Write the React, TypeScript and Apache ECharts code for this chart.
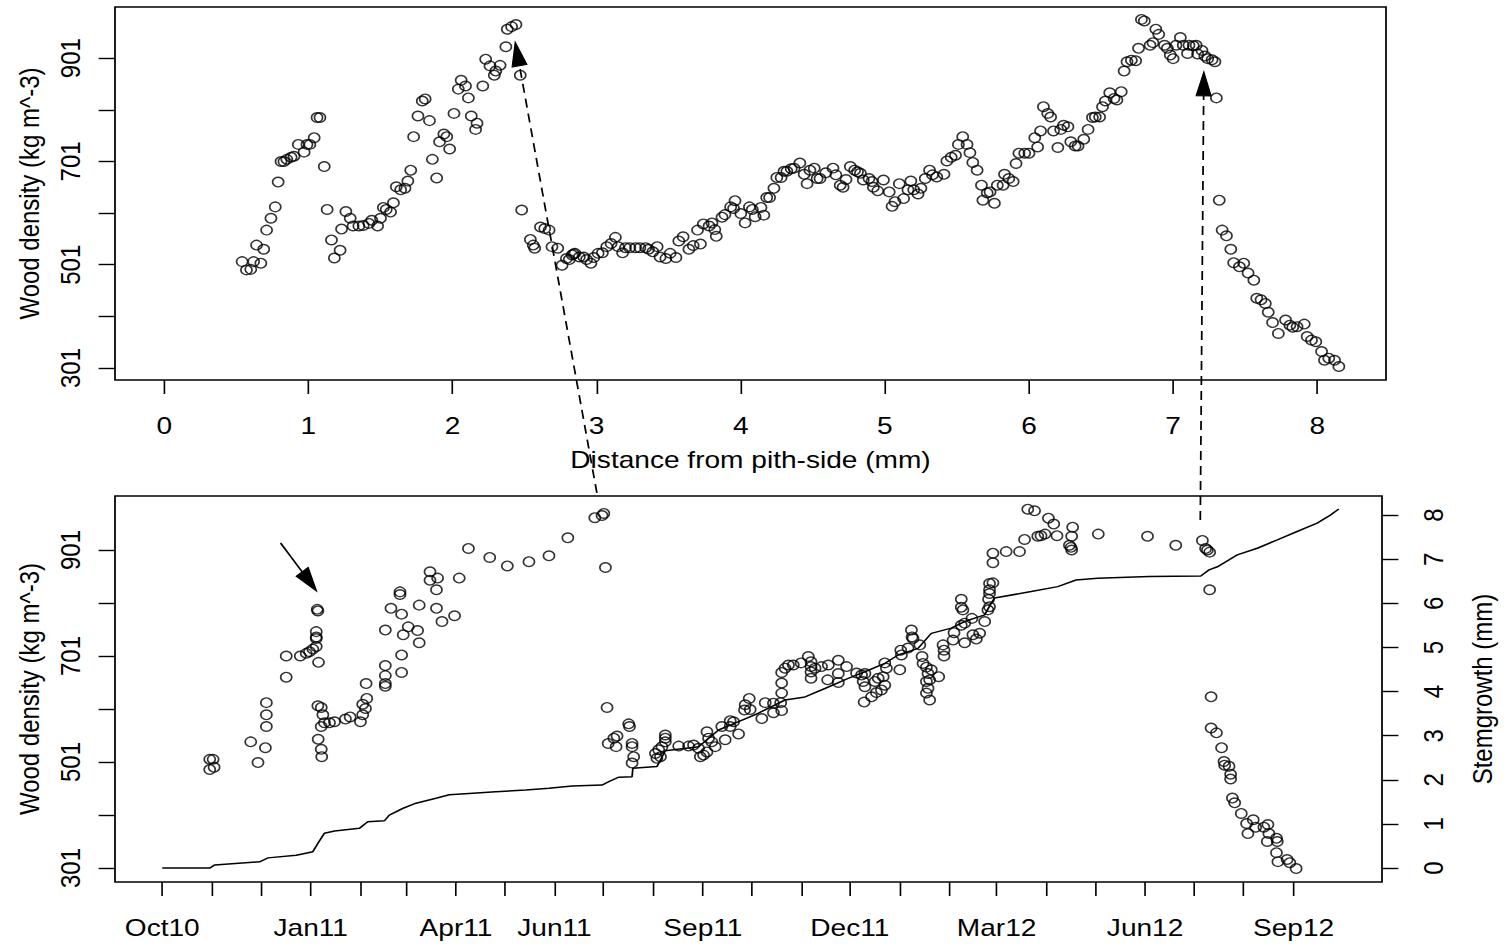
import React, { useEffect, useRef } from "react";
import * as echarts from "echarts";

// ---------- data ----------
// Top panel: wood density against distance from the pith-side (mm)
const TOP_DISTANCE_MM = [
  0.54, 0.57, 0.6, 0.62, 0.67, 0.64, 0.69, 0.71, 0.74, 0.77, 0.79, 0.81, 0.83, 0.85, 0.88, 0.9, 0.93, 0.97, 0.99, 1.01,
  1.04, 1.06, 1.08, 1.11, 1.13, 1.16, 1.18, 1.22, 1.26, 1.29, 1.23, 1.31, 1.35, 1.38, 1.42, 1.44, 1.48, 1.5, 1.52, 1.54,
  1.57, 1.59, 1.61, 1.64, 1.67, 1.69, 1.71, 1.73, 1.76, 1.79, 1.81, 1.84, 1.86, 1.89, 1.91, 1.94, 1.96, 1.98, 2.01, 2.04,
  2.06, 2.09, 2.11, 2.13, 2.17, 2.16, 2.21, 2.23, 2.26, 2.29, 2.3, 2.33, 2.37, 2.38, 2.41, 2.44, 2.47, 2.48, 2.54, 2.56,
  2.57, 2.61, 2.64, 2.67, 2.69, 2.73, 2.76, 2.79, 2.83, 2.85, 2.81, 2.84, 2.88, 2.91, 2.93, 2.96, 2.98, 3.01, 3.04, 3.07,
  3.1, 3.13, 3.15, 3.18, 3.2, 3.23, 3.27, 3.3, 3.34, 3.36, 3.39, 3.42, 3.44, 3.48, 3.51, 3.55, 3.57, 3.6, 3.64, 3.67,
  3.7, 3.72, 3.74, 3.78, 3.8, 3.83, 3.82, 3.87, 3.89, 3.93, 3.96, 3.95, 4.0, 4.03, 4.06, 4.08, 4.1, 4.14, 4.16, 4.18,
  4.2, 4.23, 4.25, 4.28, 4.3, 4.32, 4.35, 4.37, 4.41, 4.44, 4.46, 4.48, 4.51, 4.53, 4.55, 4.59, 4.64, 4.66, 4.69, 4.71,
  4.73, 4.76, 4.79, 4.81, 4.83, 4.85, 4.89, 4.91, 4.92, 4.95, 4.99, 5.03, 5.05, 5.07, 5.1, 5.13, 5.16, 5.18, 5.2, 5.23,
  5.25, 5.28, 5.31, 5.33, 5.36, 5.41, 5.43, 5.46, 5.49, 5.51, 5.54, 5.57, 5.59, 5.61, 5.64, 5.67, 5.68, 5.71, 5.73, 5.76,
  5.78, 5.82, 5.83, 5.86, 5.89, 5.91, 5.93, 5.97, 6.0, 6.04, 6.06, 6.08, 6.1, 6.13, 6.15, 6.17, 6.2, 6.22, 6.24, 6.27,
  6.29, 6.32, 6.34, 6.38, 6.41, 6.44, 6.46, 6.49, 6.51, 6.53, 6.56, 6.59, 6.61, 6.64, 6.66, 6.68, 6.71, 6.74, 6.76, 6.78,
  6.8, 6.84, 6.86, 6.88, 6.9, 6.94, 6.96, 6.98, 7.0, 7.02, 7.05, 7.07, 7.1, 7.11, 7.14, 7.16, 7.17, 7.2, 7.22, 7.24,
  7.27, 7.29, 7.3, 7.32, 7.34, 7.37, 7.4, 7.42, 7.46, 7.49, 7.52, 7.56, 7.58, 7.61, 7.64, 7.66, 7.69, 7.73, 7.78, 7.81,
  7.83, 7.86, 7.91, 7.93, 7.96, 7.99, 8.03, 8.05, 8.08, 8.12, 8.15,
];
const TOP_DENSITY = [
  507, 491, 492, 507, 504, 539, 531, 568, 591, 613, 661, 701, 701, 705, 709, 711, 734, 719, 734, 734,
  747, 786, 786, 691, 608, 549, 514, 529, 604, 591, 570, 576, 576, 577, 581, 587, 576, 591, 612, 608,
  603, 621, 652, 646, 649, 663, 684, 749, 789, 818, 822, 780, 705, 669, 739, 754, 749, 725, 794, 841,
  858, 847, 824, 789, 775, 763, 847, 899, 886, 868, 876, 887, 923, 957, 962, 966, 868, 607, 550, 539,
  533, 574, 571, 568, 536, 533, 500, 513, 520, 523, 511, 522, 516, 516, 511, 504, 515, 523, 524, 536,
  542, 554, 536, 524, 534, 534, 534, 534, 534, 531, 526, 536, 516, 513, 523, 515, 547, 555, 531, 538,
  568, 541, 580, 576, 582, 556, 569, 593, 598, 613, 625, 610, 600, 582, 613, 608, 594, 612, 597, 631,
  631, 649, 670, 670, 682, 682, 687, 688, 698, 676, 658, 684, 688, 668, 668, 679, 688, 675, 655, 651,
  666, 691, 684, 681, 678, 665, 668, 662, 651, 644, 665, 642, 614, 623, 658, 629, 646, 663, 646, 638,
  649, 668, 684, 675, 671, 676, 702, 709, 713, 734, 749, 734, 718, 699, 684, 655, 626, 640, 642, 620,
  655, 655, 676, 668, 662, 697, 717, 717, 717, 747, 729, 760, 807, 794, 787, 760, 728, 763, 771, 768,
  739, 731, 731, 744, 763, 786, 787, 787, 807, 818, 834, 823, 820, 836, 876, 894, 897, 896, 920, 976,
  973, 926, 931, 957, 947, 926, 920, 907, 900, 926, 941, 926, 910, 926, 925, 926, 909, 916, 905, 900,
  898, 894, 824, 626, 568, 557, 531, 505, 497, 504, 485, 471, 436, 433, 426, 409, 389, 368, 394, 384,
  380, 381, 386, 362, 355, 352, 333, 316, 320, 316, 304,
];

// Bottom panel: the same density profile placed on the calendar (days since 1 Oct 2010)
const START_DATE = [2010, 10, 1];
const BOTTOM_DAY = [
  29.4, 31.5, 29.4, 32.1, 54.8, 59.3, 63.9, 64.5, 64.5, 64.5, 76.8, 76.8, 85.5, 89.2, 91.2, 93.3, 95.4, 95.4, 95.4, 95.4,
  96.0, 96.4, 96.8, 96.4, 98.5, 99.5, 98.5, 100.5, 103.6, 106.7, 96.6, 98.5, 98.8, 113.5, 116.4, 122.8, 124.2, 124.2, 125.9, 126.7,
  126.3, 138.2, 138.2, 138.2, 138.2, 138.2, 141.7, 147.3, 147.3, 148.3, 148.3, 148.3, 149.3, 152.4, 158.2, 159.2, 159.2, 165.9, 165.9, 170.6,
  169.9, 169.9, 173.3, 181.1, 184.0, 189.7, 202.9, 213.8, 227.2, 239.6, 251.3, 268.0, 272.5, 273.6, 274.6, 275.6, 276.3, 279.8, 281.8, 281.2,
  289.0, 289.5, 291.1, 291.1, 292.1, 291.1, 305.6, 307.6, 309.6, 311.7, 311.7, 311.7, 308.7, 306.5, 320.0, 326.1, 329.2, 332.3, 333.4, 335.4,
  337.5, 338.5, 337.5, 340.5, 342.6, 346.7, 348.8, 351.9, 351.9, 354.0, 357.1, 360.8, 361.2, 363.7, 364.3, 371.5, 373.6, 378.7, 378.7, 383.8,
  383.2, 383.8, 383.8, 383.8, 385.9, 388.0, 391.0, 395.8, 400.3, 402.0, 402.0, 402.0, 402.0, 404.5, 408.5, 412.7, 412.3, 418.9, 418.9, 418.9,
  424.0, 430.2, 433.3, 435.4, 434.3, 435.4, 434.9, 439.5, 442.5, 445.6, 447.7, 446.7, 448.7, 447.7, 443.6, 441.6, 457.0, 457.6, 458.0, 462.1,
  464.2, 464.6, 465.2, 469.4, 470.8, 471.4, 473.5, 474.5, 476.5, 475.5, 473.5, 474.5, 473.5, 475.5, 481.1, 483.8, 484.4, 484.4, 490.0, 490.6,
  495.1, 495.1, 496.1, 497.2, 495.1, 497.2, 501.7, 502.3, 504.4, 506.5, 509.6, 511.6, 512.6, 512.0, 512.6, 512.6, 512.6, 514.7, 514.7, 514.7,
  522.9, 531.2, 534.3, 536.3, 540.5, 542.5, 544.5, 547.0, 549.1, 552.4, 554.4, 564.1, 563.5, 562.1, 563.1, 563.5, 580.0, 610.5, 628.0, 644.5,
  646.5, 647.6, 649.0, 649.0, 649.9, 649.9, 653.2, 656.4, 657.9, 658.3, 661.0, 662.0, 662.0, 663.1, 664.5, 668.6, 671.9, 672.7, 676.0, 677.5,
  682.6, 685.1, 685.7, 684.7, 690.4, 690.9, 690.4, 691.3, 697.0, 698.7, 702.6,
];
const BOTTOM_DENSITY = [
  506, 506, 487, 491, 539, 500, 528, 613, 590, 568, 701, 661, 701, 706, 709, 714, 719, 734, 737, 747,
  789, 786, 689, 607, 604, 590, 568, 575, 575, 577, 544, 525, 511, 582, 586, 577, 590, 610, 602, 621,
  649, 750, 683, 664, 649, 644, 791, 822, 817, 780, 703, 670, 741, 756, 749, 726, 797, 860, 844, 848,
  826, 791, 766, 777, 848, 904, 887, 871, 879, 890, 924, 962, 966, 970, 868, 604, 536, 546, 550, 530,
  573, 568, 536, 530, 511, 499, 517, 524, 530, 552, 546, 539, 511, 508, 531, 531, 533, 527, 511, 514,
  520, 546, 558, 539, 530, 568, 543, 579, 568, 577, 554, 599, 609, 621, 600, 583, 613, 612, 594, 598,
  613, 631, 650, 670, 678, 684, 684, 688, 700, 690, 681, 671, 659, 678, 681, 684, 656, 693, 668, 651,
  681, 669, 665, 668, 653, 643, 614, 624, 632, 637, 646, 662, 678, 688, 659, 653, 675, 712, 703, 716,
  750, 737, 734, 722, 700, 687, 680, 668, 675, 656, 653, 640, 631, 618, 662, 722, 712, 701, 731, 745,
  808, 793, 788, 763, 759, 726, 772, 741, 733, 744, 766, 788, 794, 808, 819, 826, 838, 839, 877, 895,
  898, 898, 921, 978, 975, 927, 928, 931, 961, 950, 928, 944, 927, 910, 906, 901, 931, 927, 910, 919,
  904, 901, 897, 826, 624, 565, 556, 528, 502, 495, 493, 478, 469, 433, 424, 404, 385, 366, 392, 378,
  378, 383, 366, 351, 357, 351, 330, 313, 317, 311, 300,
];

// Cumulative stem growth (mm) on the calendar (days since 1 Oct 2010)
const GROWTH_DAY = [
  0, 29.4, 32.5, 60.3, 65.5, 83.0, 93.3, 96.4, 100.5, 106.7, 122.1, 127.3, 137.6, 140.7, 148.9, 157.2, 169.6, 177.8, 190.1, 206.6,
  225.2, 239.6, 254.0, 272.5, 276.7, 282.9, 291.1, 291.6, 306.5, 311.7, 332.3, 344.7, 357.1, 369.4, 385.9, 398.3, 410.6, 425.0, 435.4, 447.7,
  456.0, 468.3, 476.5, 488.9, 497.2, 509.6, 513.6, 515.7, 538.4, 554.9, 566.2, 579.6, 611.5, 643.5, 648.6, 653.8, 666.1, 678.5, 690.9, 703.2,
  715.6, 723.8, 729.0,
];
const GROWTH_MM = [
  0, 0, 0.07, 0.14, 0.23, 0.29, 0.37, 0.56, 0.79, 0.84, 0.9, 1.05, 1.07, 1.2, 1.35, 1.47, 1.58, 1.66, 1.69, 1.73,
  1.77, 1.81, 1.86, 1.88, 1.96, 2.06, 2.07, 2.26, 2.3, 2.66, 2.75, 3.13, 3.32, 3.51, 3.81, 3.88, 4.07, 4.3, 4.45, 4.64,
  4.83, 4.98, 5.32, 5.44, 5.59, 5.74, 6.0, 6.12, 6.27, 6.38, 6.53, 6.57, 6.61, 6.62, 6.76, 6.83, 7.1, 7.25, 7.44, 7.63,
  7.82, 8.0, 8.14,
];

// Axis ticks and labels
const DISTANCE_TICKS = [0, 1, 2, 3, 4, 5, 6, 7, 8];
const DENSITY_TICKS = [301, 401, 501, 601, 701, 801, 901];
const DENSITY_LABELS = [301, 501, 701, 901];
const GROWTH_TICKS = [0, 1, 2, 3, 4, 5, 6, 7, 8];
const MONTH_TICKS = [
  "2010-10", "2010-11", "2010-12", "2011-01", "2011-02", "2011-03", "2011-04", "2011-05", "2011-06", "2011-07", "2011-08", "2011-09",
  "2011-10", "2011-11", "2011-12", "2012-01", "2012-02", "2012-03", "2012-04", "2012-05", "2012-06", "2012-07", "2012-08", "2012-09",
];
const DATE_LABEL_MONTHS = ["2010-10", "2011-01", "2011-04", "2011-06", "2011-09", "2011-12", "2012-03", "2012-06", "2012-09"];
const DATE_LABEL_TEXT = ["Oct10", "Jan11", "Apr11", "Jun11", "Sep11", "Dec11", "Mar12", "Jun12", "Sep12"];

// ---------- layout ----------
const FULL_W = 1506;
const FULL_H = 948;
const STRETCH = 1.1702; // the reference is horizontally stretched
const W = Math.round(FULL_W / STRETCH);
const FONT = "'Liberation Sans', Arial, Helvetica, sans-serif";
const FS = 24;

const monthDay = (m: string) => {
  const [y, mo] = m.split("-").map(Number);
  return (Date.UTC(y, mo - 1, 1) - Date.UTC(START_DATE[0], START_DATE[1] - 1, START_DATE[2])) / 86400000;
};

export default function App() {
  const ref = useRef<HTMLDivElement>(null);

  useEffect(() => {
    document.body.style.margin = "0";
    document.body.style.overflow = "hidden";
    if (!ref.current) return;
    const chart = echarts.init(ref.current, undefined, { renderer: "svg" });

    const monthTickDays = MONTH_TICKS.map(monthDay);
    const labelDays = DATE_LABEL_MONTHS.map(monthDay);
    const labelMap = new Map<number, string>();
    labelDays.forEach((d, i) => labelMap.set(d, DATE_LABEL_TEXT[i]));

    const left = 115 / STRETCH;
    const right = W - 1386 / STRETCH;

    const textStyle = { color: "#000", fontFamily: FONT, fontSize: FS };
    const tick = { show: true, length: 14, lineStyle: { color: "#000", width: 1.4 } };
    const noLine = { show: false, onZero: false };

    const option: any = {
      animation: false,
      backgroundColor: "#fff",
      textStyle: { fontFamily: FONT },
      grid: [
        { left, right, top: 7, height: 373, show: true, borderColor: "#000", borderWidth: 1.5, containLabel: false },
        { left, right, top: 496, height: 386, show: true, borderColor: "#000", borderWidth: 1.5, containLabel: false },
      ],
      xAxis: [
        {
          gridIndex: 0,
          type: "value",
          position: "bottom",
          min: -0.342,
          max: 8.477,
          axisLine: noLine,
          splitLine: { show: false },
          axisTick: { ...tick, customValues: DISTANCE_TICKS },
          axisLabel: { ...textStyle, margin: 34, customValues: DISTANCE_TICKS },
          name: "Distance from pith-side (mm)",
          nameLocation: "middle",
          nameGap: 68,
          nameTextStyle: textStyle,
        },
        {
          gridIndex: 1,
          type: "value",
          position: "bottom",
          min: -29.3,
          max: 755.8,
          axisLine: noLine,
          splitLine: { show: false },
          axisTick: { ...tick, customValues: monthTickDays },
          axisLabel: {
            ...textStyle,
            margin: 34,
            customValues: labelDays,
            formatter: (v: number) => labelMap.get(Math.round(v)) ?? "",
          },
        },
      ],
      yAxis: [
        {
          gridIndex: 0,
          type: "value",
          position: "left",
          min: 277.8,
          max: 1000,
          axisLine: noLine,
          splitLine: { show: false },
          axisTick: { ...tick, customValues: DENSITY_TICKS },
          axisLabel: { ...textStyle, rotate: 90, margin: 26, customValues: DENSITY_LABELS },
          name: "Wood density (kg m^-3)",
          nameLocation: "middle",
          nameRotate: 90,
          nameGap: 61,
          nameTextStyle: textStyle,
        },
        {
          gridIndex: 1,
          type: "value",
          position: "left",
          min: 274.6,
          max: 1002.9,
          axisLine: noLine,
          splitLine: { show: false },
          axisTick: { ...tick, customValues: DENSITY_TICKS },
          axisLabel: { ...textStyle, rotate: 90, margin: 26, customValues: DENSITY_LABELS },
          name: "Wood density (kg m^-3)",
          nameLocation: "middle",
          nameRotate: 90,
          nameGap: 61,
          nameTextStyle: textStyle,
        },
        {
          gridIndex: 1,
          type: "value",
          position: "right",
          min: -0.317,
          max: 8.435,
          axisLine: noLine,
          splitLine: { show: false },
          axisTick: { ...tick, customValues: GROWTH_TICKS },
          axisLabel: { ...textStyle, rotate: 90, margin: 32, customValues: GROWTH_TICKS },
          name: "Stemgrowth (mm)",
          nameLocation: "middle",
          nameRotate: 90,
          nameGap: 74,
          nameTextStyle: textStyle,
        },
      ],
      series: [
        {
          type: "scatter",
          xAxisIndex: 0,
          yAxisIndex: 0,
          symbol: "circle",
          symbolSize: 9.5,
          itemStyle: { color: "rgba(0,0,0,0)", borderColor: "#000", borderWidth: 1.4 },
          data: TOP_DISTANCE_MM.map((d, i) => [d, TOP_DENSITY[i]]),
          silent: true,
        },
        {
          type: "scatter",
          xAxisIndex: 1,
          yAxisIndex: 1,
          symbol: "circle",
          symbolSize: 9.5,
          itemStyle: { color: "rgba(0,0,0,0)", borderColor: "#000", borderWidth: 1.4 },
          data: BOTTOM_DAY.map((d, i) => [d, BOTTOM_DENSITY[i]]),
          silent: true,
        },
        {
          type: "line",
          xAxisIndex: 1,
          yAxisIndex: 2,
          showSymbol: false,
          lineStyle: { color: "#000", width: 1.5 },
          data: GROWTH_DAY.map((d, i) => [d, GROWTH_MM[i]]),
          silent: true,
        },
      ],
    };
    chart.setOption(option);

    // Arrows (annotation endpoints given in data coordinates)
    const top = (p: number[]) => chart.convertToPixel({ seriesIndex: 0 }, p) as number[];
    const bot = (p: number[]) => chart.convertToPixel({ seriesIndex: 1 }, p) as number[];

    const arrow = (from: number[], to: number[], dashed: boolean, len: number, half: number) => {
      // work in photographed (stretched) space so heads keep their shape
      const fx = from[0] * STRETCH, fy = from[1];
      const tx = to[0] * STRETCH, ty = to[1];
      const dx = tx - fx, dy = ty - fy;
      const L = Math.hypot(dx, dy);
      const ux = dx / L, uy = dy / L;
      const bx = tx - ux * len, by = ty - uy * len;
      const px = -uy, py = ux;
      const pts = [
        [tx / STRETCH, ty],
        [(bx + px * half) / STRETCH, by + py * half],
        [(bx - px * half) / STRETCH, by - py * half],
      ];
      return [
        {
          type: "line",
          silent: true,
          z: 100,
          shape: { x1: from[0], y1: from[1], x2: bx / STRETCH, y2: by },
          style: { stroke: "#000", lineWidth: 1.5, lineDash: dashed ? [9, 6] : null },
        },
        { type: "polygon", silent: true, z: 100, shape: { points: pts }, style: { fill: "#000", stroke: "#000" } },
      ];
    };

    const g = [
      ...arrow(bot([269.3, 1008.6]), top([2.435, 932]), true, 24, 7.5),
      ...arrow(bot([643.2, 957.6]), top([7.213, 874.5]), true, 24, 7.5),
      ...arrow(bot([73.3, 914.2]), bot([95.6, 823.6]), false, 24, 7.5),
    ];
    chart.setOption({ graphic: g });

    return () => chart.dispose();
  }, []);

  return (
    <div
      ref={ref}
      style={{
        width: W,
        height: FULL_H,
        transform: `scaleX(${STRETCH})`,
        transformOrigin: "0 0",
      }}
    />
  );
}
